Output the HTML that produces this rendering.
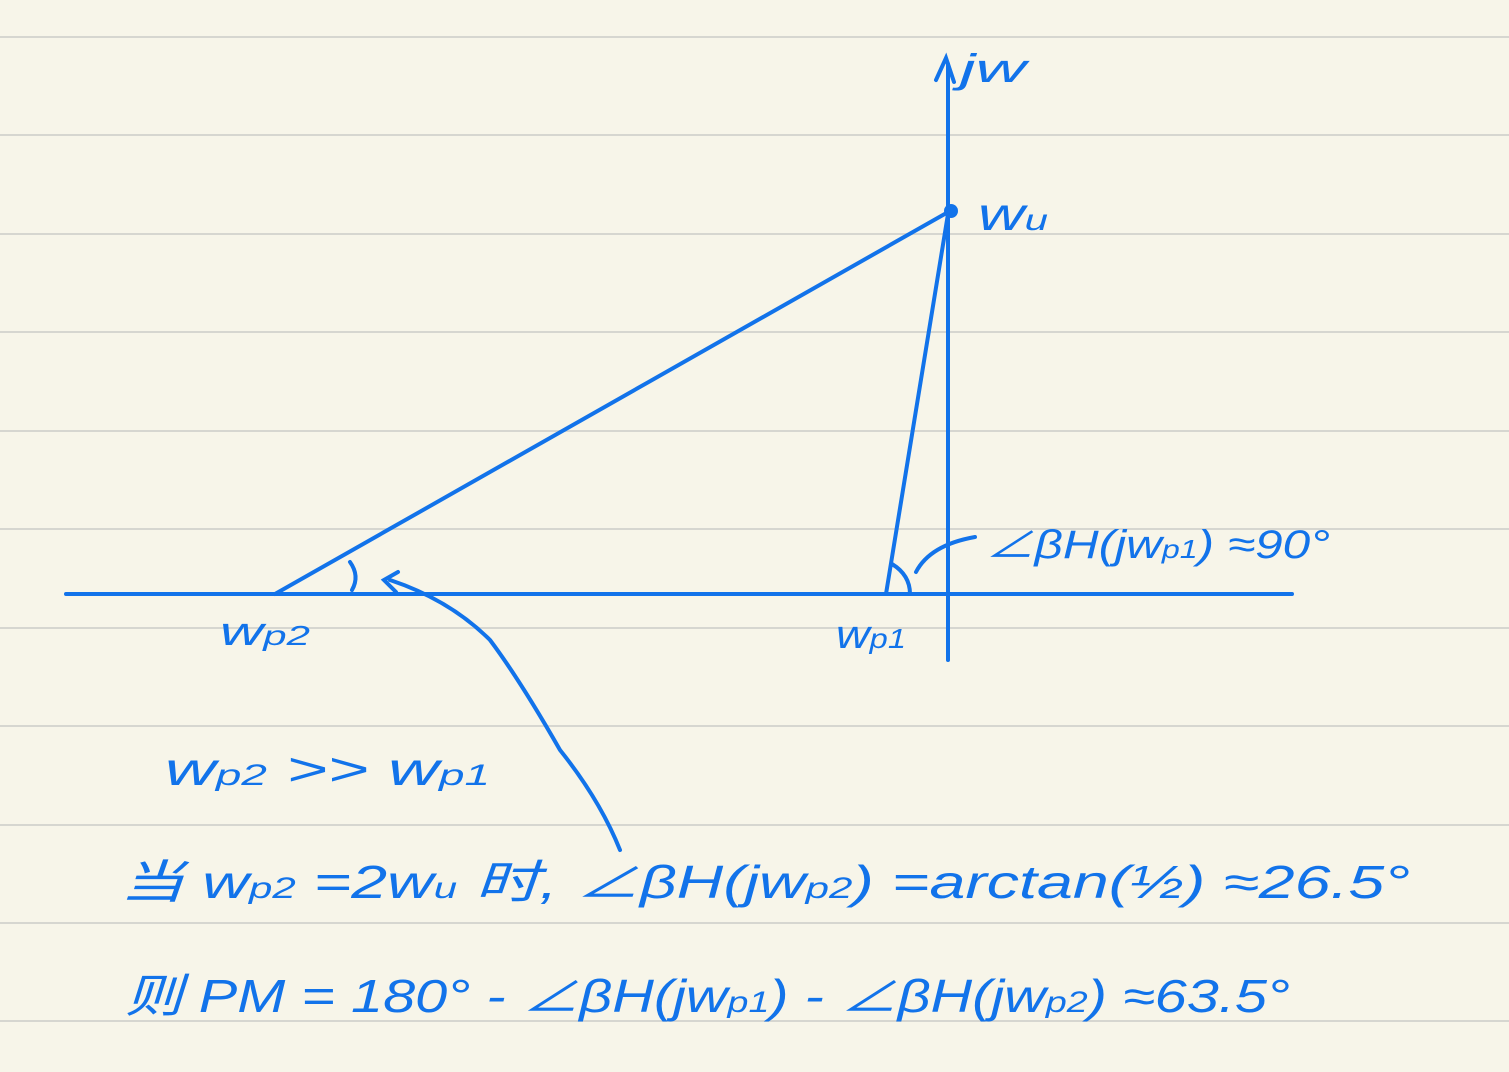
<!DOCTYPE html>
<html><head><meta charset="utf-8"><style>
html,body{margin:0;padding:0;background:#f7f5e9;}
svg{display:block}
text{font-family:"Liberation Sans","Noto Sans CJK SC",sans-serif;fill:#1273ea;font-style:italic}
</style></head><body>
<svg width="1509" height="1072" viewBox="0 0 1509 1072" xmlns="http://www.w3.org/2000/svg">
<rect width="1509" height="1072" fill="#f7f5e9"/>
<g id="rules"></g>
<g stroke="#1273ea" stroke-width="4" fill="none" stroke-linecap="round">
<line x1="66" y1="594" x2="1292" y2="594"/>
<line x1="948" y1="64" x2="948" y2="660"/>
<path d="M936 80 L946 58 L954 82"/>
<line x1="275" y1="594" x2="950" y2="211"/>
<line x1="886" y1="594" x2="948" y2="214"/>
<path d="M350 562 Q360 576 352 590"/>
<path d="M892 564 Q910 575 910 594"/>
<path d="M916 572 Q930 545 975 537"/>
<path d="M620 850 Q600 800 560 750 Q520 680 490 640 Q450 600 390 580"/>
<path d="M398 572 L384 580 L396 592"/>
</g>
<circle cx="951" cy="211" r="7" fill="#1273ea"/>
<text x="960" y="82" font-size="40" textLength="66" lengthAdjust="spacingAndGlyphs">jw</text>
<text x="978" y="230" font-size="46" textLength="70" lengthAdjust="spacingAndGlyphs">w<tspan font-size="30">u</tspan></text>
<text x="220" y="645" font-size="40" textLength="90" lengthAdjust="spacingAndGlyphs">w<tspan font-size="28">p2</tspan></text>
<text x="836" y="648" font-size="40" textLength="70" lengthAdjust="spacingAndGlyphs">w<tspan font-size="28">p1</tspan></text>
<text x="985" y="558" font-size="40" textLength="345" lengthAdjust="spacingAndGlyphs">∠βH(jw<tspan font-size="26">p1</tspan>) ≈90°</text>
<text x="165" y="785" font-size="46" textLength="325" lengthAdjust="spacingAndGlyphs">w<tspan font-size="30">p2</tspan>  &gt;&gt; w<tspan font-size="30">p1</tspan></text>
<text x="120" y="898" font-size="46" textLength="1290" lengthAdjust="spacingAndGlyphs">当 w<tspan font-size="30">p2</tspan> =2w<tspan font-size="30">u</tspan> 时, ∠βH(jw<tspan font-size="30">p2</tspan>) =arctan(½) ≈26.5°</text>
<text x="125" y="1012" font-size="46" textLength="1165" lengthAdjust="spacingAndGlyphs">则 PM = 180° - ∠βH(jw<tspan font-size="30">p1</tspan>) - ∠βH(jw<tspan font-size="30">p2</tspan>) ≈63.5°</text>
</svg>
<script>
const ruleRows=[37,135,234,332,431,529,628,726,825,923,1021];
const g=document.getElementById('rules');
ruleRows.forEach(y=>{
const l=document.createElementNS('http://www.w3.org/2000/svg','line');


l.setAttribute('x1',0);l.setAttribute('x2',1509);l.setAttribute('y1',y);l.setAttribute('y2',y);
l.setAttribute('stroke','#d6d6d0');l.setAttribute('stroke-width','2');
g.appendChild(l);
});
</script>
</body></html>
